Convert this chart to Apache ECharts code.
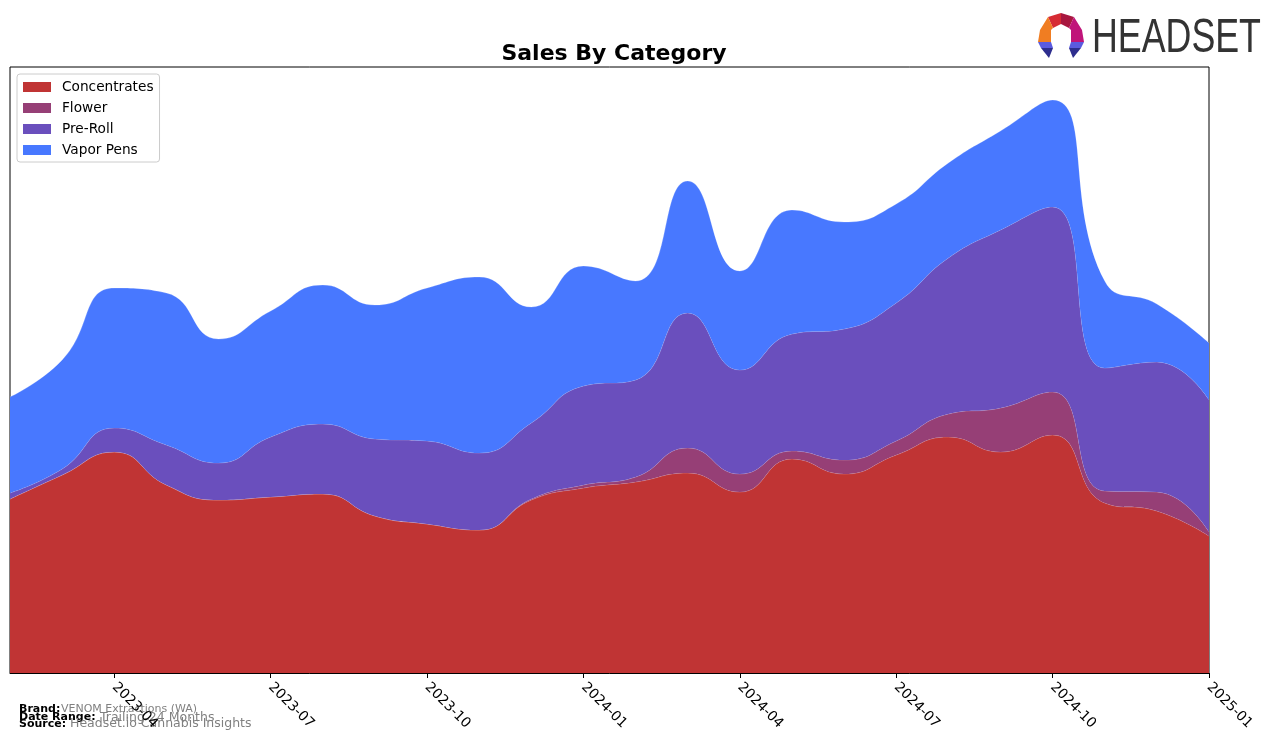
<!DOCTYPE html>
<html>
<head>
<meta charset="utf-8">
<script src="https://cdn.jsdelivr.net/npm/echarts@6/dist/echarts.min.js"></script>
<style>
html,body{margin:0;padding:0;background:#fff;}
#chart{width:1276px;height:743px;}
</style>
</head>
<body>
<div id="chart"></div>
<script>
// ---- data (monthly) ----
const months = ['2023-02','2023-03','2023-04','2023-05','2023-06','2023-07','2023-08','2023-09','2023-10','2023-11','2023-12',
  '2024-01','2024-02','2024-03','2024-04','2024-05','2024-06','2024-07','2024-08','2024-09','2024-10','2024-11','2024-12','2025-01'];
const concentrates = [174,198,221,188,173,176,179,157,149,143,173,185,191,200,181,214,199,218,236,221,238,170,162,137];
const flower       = [0,0,0,0,0,0,0,0,0,0,1,3,5,25,18,8,14,14,23,44,43,12,19,4];
const preRoll      = [6,6,24,40,37,60,70,77,83,77,76,99,97,135,104,117,131,138,156,178,185,123,130,132];
const vaporPens    = [96,109,140,152,124,126,139,134,153,176,116,120,99,132,99,124,107,99,95,99,107,87,58,57];
const tickLabels   = ['2023-04','2023-07','2023-10','2024-01','2024-04','2024-07','2024-10','2025-01'];
const seriesNames  = ['Concentrates','Flower','Pre-Roll','Vapor Pens'];
const seriesColors = ['#c03434','#963f76','#6a4fbd','#4878ff'];

const seriesData = [concentrates, flower, preRoll, vaporPens];
function isTick(idx, val){ return tickLabels.indexOf(months[idx]) >= 0; }

const chart = echarts.init(document.getElementById('chart'), null, {renderer:'canvas'});
const option = {
  animation: false,
  backgroundColor: '#ffffff',
  title: {
    text: 'Sales By Category',
    left: 609, top: 38, textAlign: 'center',
    textStyle: {fontFamily: 'DejaVu Sans', fontWeight: 'bold', fontSize: 22, color: '#000'}
  },
  legend: {
    orient: 'vertical',
    left: 17, top: 74,
    padding: [6, 6, 5, 6],
    itemWidth: 28, itemHeight: 10, itemGap: 7,
    borderColor: '#cccccc', borderWidth: 1, borderRadius: 3,
    backgroundColor: '#ffffff',
    icon: 'rect',
    textStyle: {fontFamily: 'DejaVu Sans', fontSize: 13.7, color: '#000', padding: [0,0,0,6]},
    data: seriesNames
  },
  grid: {
    left: 10, right: 67, top: 67, bottom: 70,
    show: true, borderColor: '#000', borderWidth: 1, backgroundColor: 'transparent'
  },
  xAxis: {
    type: 'category',
    data: months,
    boundaryGap: false,
    axisLine: {show: true, lineStyle: {color: '#000', width: 1}},
    axisTick: {show: true, interval: isTick, length: 5, lineStyle: {color: '#000'}},
    axisLabel: {
      interval: isTick,
      rotate: -45, margin: 12,
      fontFamily: 'DejaVu Sans', fontSize: 13.9, color: '#000'
    },
    splitLine: {show: false}
  },
  yAxis: {
    type: 'value', min: 0, max: 606,
    show: false, splitLine: {show: false}
  },
  series: seriesNames.map(function(name, i){
    return {
      name: name, type: 'line', stack: 'total', smooth: 0.5, symbol: 'none',
      data: seriesData[i],
      itemStyle: {color: seriesColors[i]},
      lineStyle: {width: 0.6, color: 'rgba(255,255,255,0.35)'},
      areaStyle: {color: seriesColors[i], opacity: 1},
      emphasis: {disabled: true},
      z: 2 + i
    };
  }),
  graphic: [
    // footer
    {type:'text', left: 19, top: 704, style:{text:'Brand:', font:'bold 11px "DejaVu Sans"', fill:'#000'}},
    {type:'text', left: 61, top: 704, style:{text:'VENOM Extractions (WA)', font:'11px "DejaVu Sans"', fill:'#808080'}},
    {type:'text', left: 19, top: 712, style:{text:'Date Range:', font:'bold 11px "DejaVu Sans"', fill:'#000'}},
    {type:'text', left: 100, top: 711, style:{text:'Trailing 24 Months', font:'12.5px "DejaVu Sans"', fill:'#808080'}},
    {type:'text', left: 19, top: 719, style:{text:'Source:', font:'bold 11px "DejaVu Sans"', fill:'#000'}},
    {type:'text', left: 70, top: 717, style:{text:'Headset.io Cannabis Insights', font:'12.5px "DejaVu Sans"', fill:'#808080'}},
    // logo text
    {type:'text', x: 1092, y: 14, scaleX: 0.73, style:{text:'HEADSET', font:'49px "Liberation Sans"', fill:'#333333'}},
    // logo icon
    {type:'polygon', shape:{points:[[1048,17],[1061,13],[1061,24],[1053,28]]}, style:{fill:'#d62b33'}},
    {type:'polygon', shape:{points:[[1061,13],[1074,17],[1069,28],[1061,24]]}, style:{fill:'#a8173f'}},
    {type:'polygon', shape:{points:[[1074,17],[1082,30],[1084,42],[1071,42],[1071,30],[1069,28]]}, style:{fill:'#c0157a'}},
    {type:'polygon', shape:{points:[[1048,17],[1053,28],[1051,30],[1051,42],[1038,42],[1040,30]]}, style:{fill:'#f07d22'}},
    {type:'polygon', shape:{points:[[1038,42],[1051,42],[1053,48],[1041,48]]}, style:{fill:'#5b5be0'}},
    {type:'polygon', shape:{points:[[1041,48],[1053,48],[1049,58]]}, style:{fill:'#2e2e8e'}},
    {type:'polygon', shape:{points:[[1071,42],[1084,42],[1081,48],[1069,48]]}, style:{fill:'#5b5be0'}},
    {type:'polygon', shape:{points:[[1069,48],[1081,48],[1073,58]]}, style:{fill:'#2e2e8e'}}
  ]
};
chart.setOption(option);
</script>
</body>
</html>
